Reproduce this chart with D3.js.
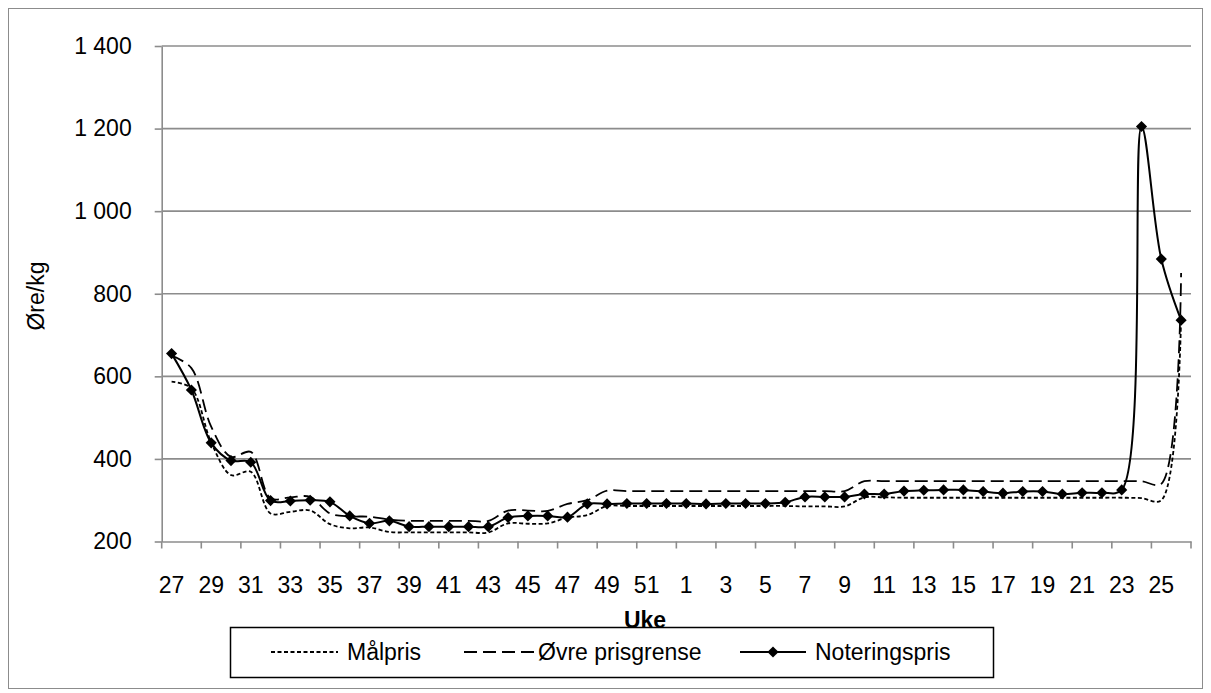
<!DOCTYPE html>
<html><head><meta charset="utf-8">
<script src="https://cdn.jsdelivr.net/npm/d3@7"></script>
<style>body{margin:0;background:#fff}</style>
</head><body><svg id="c" width="1211" height="693"></svg>
<script>
const weeks = [27,28,29,30,31,32,33,34,35,36,37,38,39,40,41,42,43,44,45,46,47,48,49,50,51,52,
               1,2,3,4,5,6,7,8,9,10,11,12,13,14,15,16,17,18,19,20,21,22,23,24,25,26];
const malpris = [587,571,440,361,369,268,272,275,242,232,234,223,222,222,222,222,222,244,243,244,258,264,286,286,286,286,
                 286,286,286,286,286,286,285,285,285,307,307,306,306,306,306,306,306,306,306,306,306,306,306,305,300,745];
const ovrePrisgrense = [650,620,478,405,417,305,307,308,268,261,260,253,250,250,250,250,250,275,275,274,291,300,323,322,322,322,
                 322,322,322,322,322,322,322,322,322,346,346,346,346,346,346,346,346,346,346,346,346,346,346,346,340,850];
const noteringspris = [655,567,439,396,392,299,298,300,296,262,244,250,236,236,236,236,236,258,262,262,259,291,291,292,292,292,
                 292,291,292,292,292,295,308,308,308,315,315,322,324,325,325,321,317,321,321,315,318,318,325,1205,884,736];
const yTicks = [200,400,600,800,1000,1200,1400];
const xLabelWeeks = weeks.filter((w,i)=>i%2===0);
const seriesNames = ["Målpris","Øvre prisgrense","Noteringspris"];
const yTitle = "Øre/kg", xTitle = "Uke";

const FONT = "'Liberation Sans', Arial, sans-serif";
const svg = d3.select("#c");
const P = {l:161.7, r:1191, t:46, b:541.5};
const GRID = "#8c8c8c";

svg.append("rect").attr("x",8.5).attr("y",8.5).attr("width",1194).attr("height",680)
  .attr("fill","none").attr("stroke","#8c8c8c").attr("stroke-width",1);

const x = d3.scaleBand().domain(weeks.map(String)).range([P.l,P.r]);
const cx = w => x(String(w)) + x.bandwidth()/2;
const y = d3.scaleLinear().domain([200,1400]).range([P.b,P.t]);

// gridlines
svg.append("g").selectAll("line").data(yTicks.slice(1)).join("line")
  .attr("x1",P.l).attr("x2",P.r).attr("y1",d=>y(d)).attr("y2",d=>y(d))
  .attr("stroke",GRID).attr("stroke-width",1.6);

const loc = d3.formatLocale({decimal:",",thousands:" ",grouping:[3],currency:["",""]});
const fmt = loc.format(",d");

const ya = svg.append("g").attr("transform",`translate(${P.l},0)`)
  .call(d3.axisLeft(y).tickValues(yTicks).tickSize(7).tickSizeOuter(0).tickPadding(23).tickFormat(fmt));
ya.select(".domain").attr("stroke",GRID).attr("stroke-width",1.6);
ya.selectAll(".tick line").attr("stroke",GRID).attr("stroke-width",1.6);
ya.selectAll("text").attr("font-family",FONT).attr("font-size",23).attr("fill","#000");

const xa = svg.append("g").attr("transform",`translate(0,${P.b})`)
  .call(d3.axisBottom(x).tickValues(xLabelWeeks.map(String)).tickSize(0).tickSizeOuter(0).tickPadding(35));
xa.select(".domain").attr("stroke",GRID).attr("stroke-width",1.6);
xa.selectAll("text").attr("font-family",FONT).attr("font-size",23).attr("fill","#000");
// category tick marks every second category boundary
const tickX = weeks.filter((w,i)=>i%2===0).map(w=>x(String(w))).concat([P.r]);
svg.append("g").selectAll("line").data(tickX).join("line")
  .attr("x1",d=>d).attr("x2",d=>d).attr("y1",P.b).attr("y2",P.b+7)
  .attr("stroke",GRID).attr("stroke-width",1.6);

const line = d3.line().x((d,i)=>cx(weeks[i])).y(d=>y(d)).curve(d3.curveCatmullRom.alpha(0.5));
const styles = [
  {data:malpris, dash:"4,2.5", w:1.8},
  {data:ovrePrisgrense, dash:"13,6", w:1.8},
  {data:noteringspris, dash:null, w:2}
];
styles.forEach(s=>{
  const p = svg.append("path").attr("d",line(s.data)).attr("fill","none")
    .attr("stroke","#000").attr("stroke-width",s.w);
  if(s.dash) p.attr("stroke-dasharray",s.dash);
});
const diamond = d3.symbol().type(d3.symbolSquare).size(62);
svg.append("g").selectAll("path").data(noteringspris).join("path")
  .attr("d",diamond).attr("fill","#000")
  .attr("transform",(d,i)=>`translate(${cx(weeks[i])},${y(d)}) rotate(45)`);

// titles
svg.append("text").attr("x",645).attr("y",628).attr("text-anchor","middle")
  .attr("font-family",FONT).attr("font-size",23).attr("font-weight","bold").text(xTitle);
svg.append("text").attr("transform","translate(44,296) rotate(-90)").attr("text-anchor","middle")
  .attr("font-family",FONT).attr("font-size",23).text(yTitle);

// legend
svg.append("rect").attr("x",230.5).attr("y",627.5).attr("width",763).attr("height",50)
  .attr("fill","#fff").attr("stroke","#000").attr("stroke-width",1.5);
const legItems = [
  {x1:271,x2:338,tx:347,dash:"4,2.5",marker:false},
  {x1:464,x2:534,tx:538,dash:"13,6",marker:false},
  {x1:740,x2:806,tx:815,dash:null,marker:true}
];
const ly = 652;
legItems.forEach((it,k)=>{
  const l = svg.append("line").attr("x1",it.x1).attr("x2",it.x2).attr("y1",ly).attr("y2",ly)
    .attr("stroke","#000").attr("stroke-width",styles[k].w);
  if(it.dash) l.attr("stroke-dasharray",it.dash);
  if(it.marker) svg.append("path").attr("d",diamond).attr("fill","#000")
    .attr("transform",`translate(${(it.x1+it.x2)/2},${ly}) rotate(45)`);
  svg.append("text").attr("x",it.tx).attr("y",ly+8).attr("font-family",FONT).attr("font-size",23)
    .text(seriesNames[k]);
});
</script></body></html>
